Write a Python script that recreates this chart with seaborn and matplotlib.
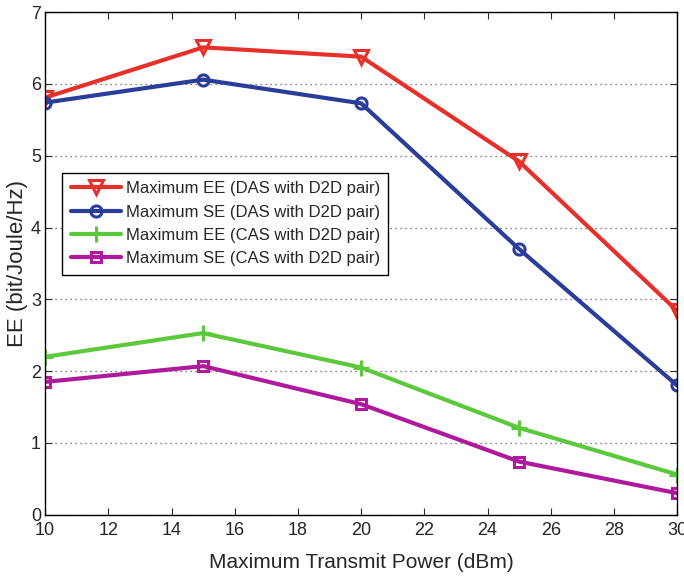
import numpy as np
import pandas as pd
import matplotlib
matplotlib.use('Agg')
import matplotlib.pyplot as plt
import seaborn as sns

# values
power = [10, 15, 20, 25, 30]
ee_das = [5.81, 6.51, 6.38, 4.92, 2.84]
se_das = [5.74, 6.06, 5.73, 3.70, 1.80]
ee_cas = [2.20, 2.53, 2.05, 1.21, 0.56]
se_cas = [1.85, 2.07, 1.54, 0.74, 0.30]

labels = ['Maximum EE (DAS with D2D pair)',
          'Maximum SE (DAS with D2D pair)',
          'Maximum EE (CAS with D2D pair)',
          'Maximum SE (CAS with D2D pair)']

series = [ee_das, se_das, ee_cas, se_cas]

sns.set_style('ticks')
plt.rcParams['font.family'] = ['Liberation Sans', 'DejaVu Sans']

colors = ['#e8302a', '#2b3d9b', '#5cc83c', '#b0189e']
markers = ['v', 'o', '+', 's']
msizes = [10, 8, 11, 7]

fig = plt.figure(figsize=(6.84, 5.79), dpi=100)
ax = fig.add_axes([0.066, 0.111, 0.924, 0.868])

for vals, lab, c, m, ms in zip(series, labels, colors, markers, msizes):
    df = pd.DataFrame({'power': power, 'ee': vals})
    sns.lineplot(data=df, x='power', y='ee', color=c, marker=m, label=lab,
                 linewidth=3, markersize=ms, markerfacecolor='none',
                 markeredgecolor=c, markeredgewidth=2.2, ax=ax)

ax.set_xlim(10, 30)
ax.set_ylim(0, 7)
ax.set_xticks(np.arange(10, 31, 2))
ax.set_yticks(np.arange(0, 8, 1))
ax.yaxis.grid(True, linestyle=(0, (1, 3)), color='#555555', linewidth=0.9)
ax.tick_params(direction='in', top=True, right=True, labelsize=13, length=5)
ax.tick_params(axis='x', pad=5)
ax.tick_params(axis='y', pad=3)
for s in ax.spines.values():
    s.set_visible(True)
    s.set_linewidth(1.0)
    s.set_color('black')

ax.set_xlabel('Maximum Transmit Power (dBm)', fontsize=15, labelpad=10)
ax.set_ylabel('EE (bit/Joule/Hz)', fontsize=16, labelpad=2)

leg = ax.legend(loc='upper left', bbox_to_anchor=(0.027, 0.68),
                borderaxespad=0, fontsize=12, frameon=True, fancybox=False,
                framealpha=1, edgecolor='black', handlelength=3,
                borderpad=0.5, labelspacing=0.5, handletextpad=0.3)
leg.get_frame().set_linewidth(1.0)

fig.savefig('out.png', dpi=100)
